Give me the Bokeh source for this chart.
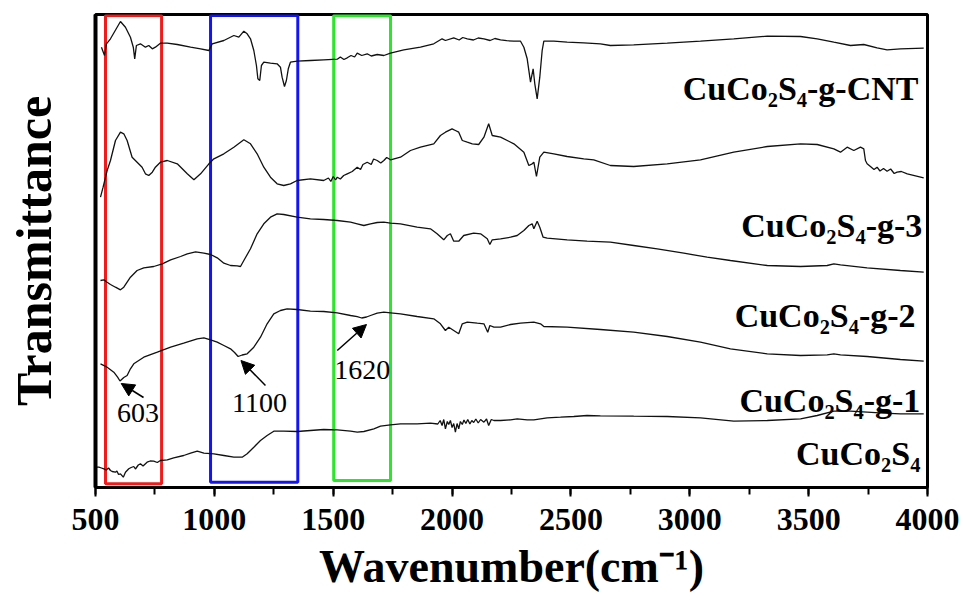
from bokeh.plotting import figure
from bokeh.models import Range1d, SingleIntervalTicker, FixedTicker, Arrow, NormalHead, ColumnDataSource
from bokeh.core.properties import value
from bokeh.embed import file_html
from bokeh.resources import INLINE

FONT = "Liberation Serif"

# FTIR spectra (wavenumber in cm^-1, transmittance in offset arbitrary units)
wn_cnt = [525, 538, 546, 563, 605, 626, 647, 659, 665, 672, 689, 710, 724, 739, 752, 773, 802, 844, 900, 942,
          977, 991, 1040, 1082, 1103, 1124, 1138, 1152, 1166, 1177, 1183, 1191, 1198, 1208, 1236, 1264, 1278, 1285,
          1295, 1303, 1311, 1320, 1348, 1404, 1460, 1517, 1530, 1545, 1559, 1575, 1590, 1601, 1620, 1643, 1660,
          1685, 1713, 1741, 1797, 1867, 1923, 1958, 1972, 2007, 2030, 2045, 2064, 2090, 2110, 2134, 2160, 2180,
          2204, 2230, 2260, 2288, 2302, 2316, 2330, 2341, 2348, 2358, 2369, 2379, 2386, 2428, 2484, 2554, 2624,
          2666, 2764, 2905, 3045, 3185, 3326, 3466, 3536, 3606, 3676, 3732, 3788, 3830, 3886, 3984]
t_cnt = [440.3, 432, 443.7, 448.7, 466, 460.3, 450.3, 440.3, 428.7, 442, 443.7, 440.3, 442, 438.7, 440.3, 444.3,
         444.3, 443, 440.3, 438.7, 437, 443.7, 447, 452, 450.3, 456.3, 453.7, 448.7, 437, 422, 408.7, 407, 422,
         425.3, 424.3, 423.7, 420.3, 410.3, 401, 407, 418.7, 425.3, 426.3, 427, 427.7, 428.3, 430.5, 428, 429.7,
         432, 430.5, 434.3, 432, 433.7, 431.5, 433, 432, 434.3, 437.7, 440.3, 443.7, 448.7, 447, 449.7, 447.5,
         450, 448.7, 447.5, 449.5, 448.7, 447, 449, 447.7, 446.8, 446.3, 446.3, 440.3, 428.7, 405.3, 418.7,
         403.7, 388.7, 410.3, 437, 446.3, 446.3, 445.3, 444.7, 443.7, 442, 442.7, 444.3, 446.3, 448.7, 451.3,
         451, 448.7, 445.3, 442, 443, 439.7, 437.7, 438.7, 439.3]

wn_g3 = [521, 532, 549, 563, 584, 605, 619, 633, 654, 675, 696, 710, 724, 739, 752, 773, 802, 844, 886, 914,
         942, 977, 998, 1040, 1082, 1124, 1152, 1180, 1208, 1236, 1264, 1292, 1320, 1348, 1404, 1460, 1480, 1490,
         1500, 1510, 1517, 1530, 1544, 1559, 1580, 1601, 1615, 1625, 1643, 1660, 1670, 1685, 1700, 1713, 1725,
         1741, 1783, 1825, 1867, 1923, 1951, 1972, 2000, 2014, 2028, 2043, 2064, 2085, 2112, 2134, 2154, 2169,
         2204, 2260, 2302, 2323, 2337, 2344, 2355, 2369, 2386, 2428, 2484, 2554, 2596, 2666, 2764, 2905, 3045,
         3185, 3326, 3466, 3536, 3606, 3634, 3662, 3690, 3718, 3732, 3739, 3746, 3760, 3775, 3788, 3800, 3815,
         3830, 3845, 3860, 3872, 3890, 3915, 3984]
t_g3 = [290.3, 300.3, 317, 327, 347, 355.3, 353.7, 347, 330.3, 325.3, 320.3, 313.7, 312, 315.3, 320.3, 325.3,
        327, 323.7, 313.7, 307.7, 313.7, 323.7, 328.7, 333.7, 340.3, 347.7, 343.7, 333.7, 320.3, 310.3, 303.7,
        302, 303.7, 307, 308.7, 307, 309.5, 306, 311, 307.5, 310.3, 308.5, 312, 313.7, 316, 320.3, 318, 323,
        325.3, 323, 328.5, 327, 324.5, 327, 330, 327.7, 330.3, 337, 340.3, 343.7, 352, 355.3, 358.7, 357, 355.3,
        347, 345.3, 343.7, 343, 350.3, 363.7, 352, 350.3, 343.7, 335.3, 322, 323.7, 325.3, 311, 330.3, 335.3,
        333.7, 331, 328.7, 327.7, 322, 321, 323.7, 327.7, 335.3, 341, 343.7, 343, 338.7, 335.3, 340.3, 337,
        340.3, 338.7, 327, 323.7, 321, 318, 320.3, 316.5, 319, 316.3, 318.5, 314, 315.3, 316, 313.7, 309.7]

wn_g2 = [521, 535, 549, 563, 584, 605, 619, 647, 675, 703, 745, 781, 816, 858, 886, 921, 956, 984, 1012, 1040,
         1068, 1096, 1110, 1124, 1152, 1180, 1208, 1236, 1264, 1292, 1348, 1404, 1460, 1517, 1573, 1601, 1629,
         1657, 1685, 1713, 1741, 1783, 1853, 1909, 1937, 1965, 1980, 1993, 2007, 2028, 2049, 2091, 2120, 2148,
         2159, 2169, 2204, 2246, 2274, 2302, 2323, 2337, 2344, 2358, 2369, 2383, 2400, 2484, 2568, 2666, 2764,
         2863, 2975, 3073, 3171, 3326, 3466, 3578, 3606, 3634, 3746, 3886, 3984]
t_g2 = [207, 207.7, 205.3, 203, 200.3, 197.7, 200.3, 210.3, 217, 219.7, 221, 223.7, 227.7, 231, 233.7, 235.7,
        234.3, 233, 229.7, 224.3, 222, 221.7, 221, 227, 238.7, 253.7, 263.7, 270.3, 273.7, 273, 270.3, 268.7,
        268, 267, 265.3, 263.7, 262, 263.7, 265, 265.3, 264.3, 263.7, 260.3, 258.7, 253.7, 247.7, 252, 253.7,
        246.3, 246.3, 252, 254.3, 253.7, 248.7, 243, 247.7, 248.7, 250.3, 252, 257, 262, 263.7, 258.7, 266.3,
        260.3, 250.3, 249.3, 247.7, 246.3, 245.3, 242, 238.7, 234.3, 230.3, 227, 222, 221, 222, 223.7, 222.7,
        219.7, 217, 215.3]

wn_g1 = [521, 549, 577, 593, 603, 619, 633, 647, 661, 703, 760, 816, 871, 928, 956, 984, 1012, 1040, 1068,
         1085, 1100, 1117, 1138, 1166, 1194, 1222, 1250, 1278, 1306, 1348, 1404, 1460, 1517, 1573, 1601, 1620,
         1640, 1657, 1685, 1713, 1741, 1783, 1853, 1923, 1951, 1972, 1986, 2007, 2028, 2043, 2064, 2106, 2134,
         2150, 2159, 2176, 2204, 2246, 2288, 2344, 2372, 2386, 2484, 2624, 2764, 2905, 3045, 3171, 3326, 3466,
         3578, 3606, 3634, 3746, 3886, 3984]
t_g1 = [123.7, 120.3, 115.3, 110.3, 106.5, 110, 112, 118.7, 123.7, 130.3, 135.3, 140.3, 144.3, 148.7, 149.7,
        147.7, 145.3, 142, 138.7, 135, 131, 132.5, 133.7, 140.3, 150.3, 163.7, 173.7, 177, 178.7, 178, 176.3,
        176, 174.7, 172, 170.8, 169.5, 170.5, 172, 174.3, 175.3, 174.7, 173.7, 171, 168.7, 163.7, 157, 160.3,
        157, 153.7, 163.7, 165.3, 164.3, 163.7, 155.3, 162, 160.3, 160.3, 163, 164.3, 165.3, 163.7, 161, 160.3,
        158, 155.3, 151, 145.3, 138.7, 133.7, 132, 132.7, 133.7, 132.7, 131, 128, 126.3]

wn_base = [500, 514, 525, 535, 545, 555, 563, 570, 584, 590, 597, 605, 617, 626, 640, 650, 661, 668, 680, 689,
           700, 717, 730, 745, 760, 773, 802, 829, 871, 900, 928, 956, 998, 1040, 1082, 1117, 1138, 1166, 1194,
           1222, 1250, 1292, 1348, 1404, 1460, 1517, 1573, 1601, 1629, 1671, 1699, 1741, 1783, 1853, 1909, 1940,
           1950, 1958, 1965, 1972, 1980, 1986, 1993, 2000, 2007, 2014, 2021, 2028, 2035, 2043, 2050, 2058, 2066,
           2075, 2083, 2091, 2100, 2110, 2120, 2134, 2145, 2154, 2165, 2176, 2204, 2246, 2274, 2316, 2344, 2400,
           2456, 2512, 2568, 2624, 2764, 2905, 3045, 3185, 3326, 3466, 3536, 3606, 3676, 3746, 3816, 3886, 3984]
t_base = [20.3, 20.3, 19.5, 18.7, 17.5, 19.5, 17, 16, 15.3, 16.5, 13, 13.7, 10.3, 15.3, 18.7, 20, 21, 18.5, 22.5,
          23.7, 21.5, 25.3, 26.5, 26.3, 25, 27, 27.7, 29.7, 32, 34.3, 36.3, 34.3, 33.7, 32, 30.3, 30.3, 33.7, 40.3,
          47, 52, 56.3, 56.3, 56, 57, 58, 57.7, 56.3, 55.3, 56, 58.7, 61.3, 62.7, 63.7, 63.7, 64.3, 63.5, 67, 62,
          68, 58.7, 66, 63, 67, 60, 64, 55.3, 64, 58.7, 66, 63, 67.5, 64, 68, 63.5, 67, 65, 68.5, 64.5, 68, 65.3,
          68.5, 62, 68, 67, 67, 67.7, 68.7, 67.7, 67.7, 69.7, 70.3, 71, 72, 71.7, 71.3, 71, 69.7, 66.3, 67, 68.7,
          72, 76.3, 76.3, 75.3, 74.3, 73.7, 73.7]

# sample names, right-aligned at the end of each trace
names = ["CuCo₂S₄-g-CNT", "CuCo₂S₄-g-3", "CuCo₂S₄-g-2", "CuCo₂S₄-g-1", "CuCo₂S₄"]
name_x = [3962, 3978, 3950, 3970, 3970]
name_y = [399, 262, 172, 87, 34]

# highlighted band regions
box_left = [542, 984, 1502]
box_right = [778, 1351, 1741]
box_bottom = [3.7, 5.3, 7]
box_top = [472, 472, 472]
box_colors = ["#ee1c1c", "#1414f0", "#2ee52e"]

# peak annotations: text position and arrow (tail -> tip)
peak_text = ["603", "1100", "1620"]
peak_tx = [679, 1190, 1622]
peak_ty = [75, 84.5, 118]
arrow_x0 = [702, 1215, 1517]
arrow_y0 = [90, 102, 137]
arrow_x1 = [608, 1112, 1640]
arrow_y1 = [104, 127, 163]

p = figure(width=963, height=606, x_range=Range1d(500, 4000), y_range=Range1d(0, 473),
           output_backend="svg", toolbar_location=None,
           min_border_left=95, min_border_right=36, min_border_top=14, min_border_bottom=119,
           background_fill_color="white", border_fill_color="white")
p.xgrid.visible = False
p.ygrid.visible = False
p.outline_line_color = "black"
p.outline_line_width = 3
p.outline_line_alpha = 1

# x axis
p.xaxis.ticker = SingleIntervalTicker(interval=500, num_minor_ticks=2)
p.xaxis.axis_line_width = 3
p.xaxis.major_tick_line_width = 2
p.xaxis.minor_tick_line_width = 2
p.xaxis.major_tick_in = 0
p.xaxis.major_tick_out = 9
p.xaxis.minor_tick_in = 0
p.xaxis.minor_tick_out = 7
p.xaxis.major_label_text_font = FONT
p.xaxis.major_label_text_font_style = "bold"
p.xaxis.major_label_text_font_size = "32px"
p.xaxis.major_label_text_color = "black"
p.xaxis.major_label_standoff = 12
p.xaxis.axis_label = "Wavenumber(cm⁻¹)"
p.xaxis.axis_label_text_font = FONT
p.xaxis.axis_label_text_font_style = "bold"
p.xaxis.axis_label_text_font_size = "46px"
p.xaxis.axis_label_text_color = "black"
p.xaxis.axis_label_standoff = 8

# y axis: no ticks or tick labels, only the title
p.yaxis.ticker = FixedTicker(ticks=[])
p.yaxis.axis_line_width = 4
p.yaxis.major_tick_line_color = None
p.yaxis.minor_tick_line_color = None
p.yaxis.major_label_text_font_size = "0px"
p.yaxis.axis_label = "Transmittance"
p.yaxis.axis_label_text_font = FONT
p.yaxis.axis_label_text_font_style = "bold"
p.yaxis.axis_label_text_font_size = "50px"
p.yaxis.axis_label_text_color = "black"
p.yaxis.axis_label_standoff = 34

# band boxes
p.quad(left=box_left, right=box_right, bottom=box_bottom, top=box_top,
       fill_color=None, line_color=box_colors, line_width=3)

# spectra
for xs, ys in [(wn_cnt, t_cnt), (wn_g3, t_g3), (wn_g2, t_g2), (wn_g1, t_g1), (wn_base, t_base)]:
    p.line(xs, ys, line_color="#111111", line_width=1.3)

# sample names
p.text(x="x", y="y", text="t",
       source=ColumnDataSource(dict(x=name_x, y=name_y, t=names)),
       text_font=value(FONT), text_font_style="bold", text_font_size="34px",
       text_align="right", text_baseline="alphabetic", text_color="black")

# peak positions
p.text(x="x", y="y", text="t",
       source=ColumnDataSource(dict(x=peak_tx, y=peak_ty, t=peak_text)),
       text_font=value(FONT), text_font_size="28px",
       text_align="center", text_baseline="middle", text_color="black")
for x0, y0, x1, y1 in zip(arrow_x0, arrow_y0, arrow_x1, arrow_y1):
    p.add_layout(Arrow(end=NormalHead(size=13, fill_color="black", line_color="black"),
                       x_start=x0, y_start=y0, x_end=x1, y_end=y1,
                       line_color="black", line_width=1.5))

open("out.html", "w").write(file_html(p, INLINE))
